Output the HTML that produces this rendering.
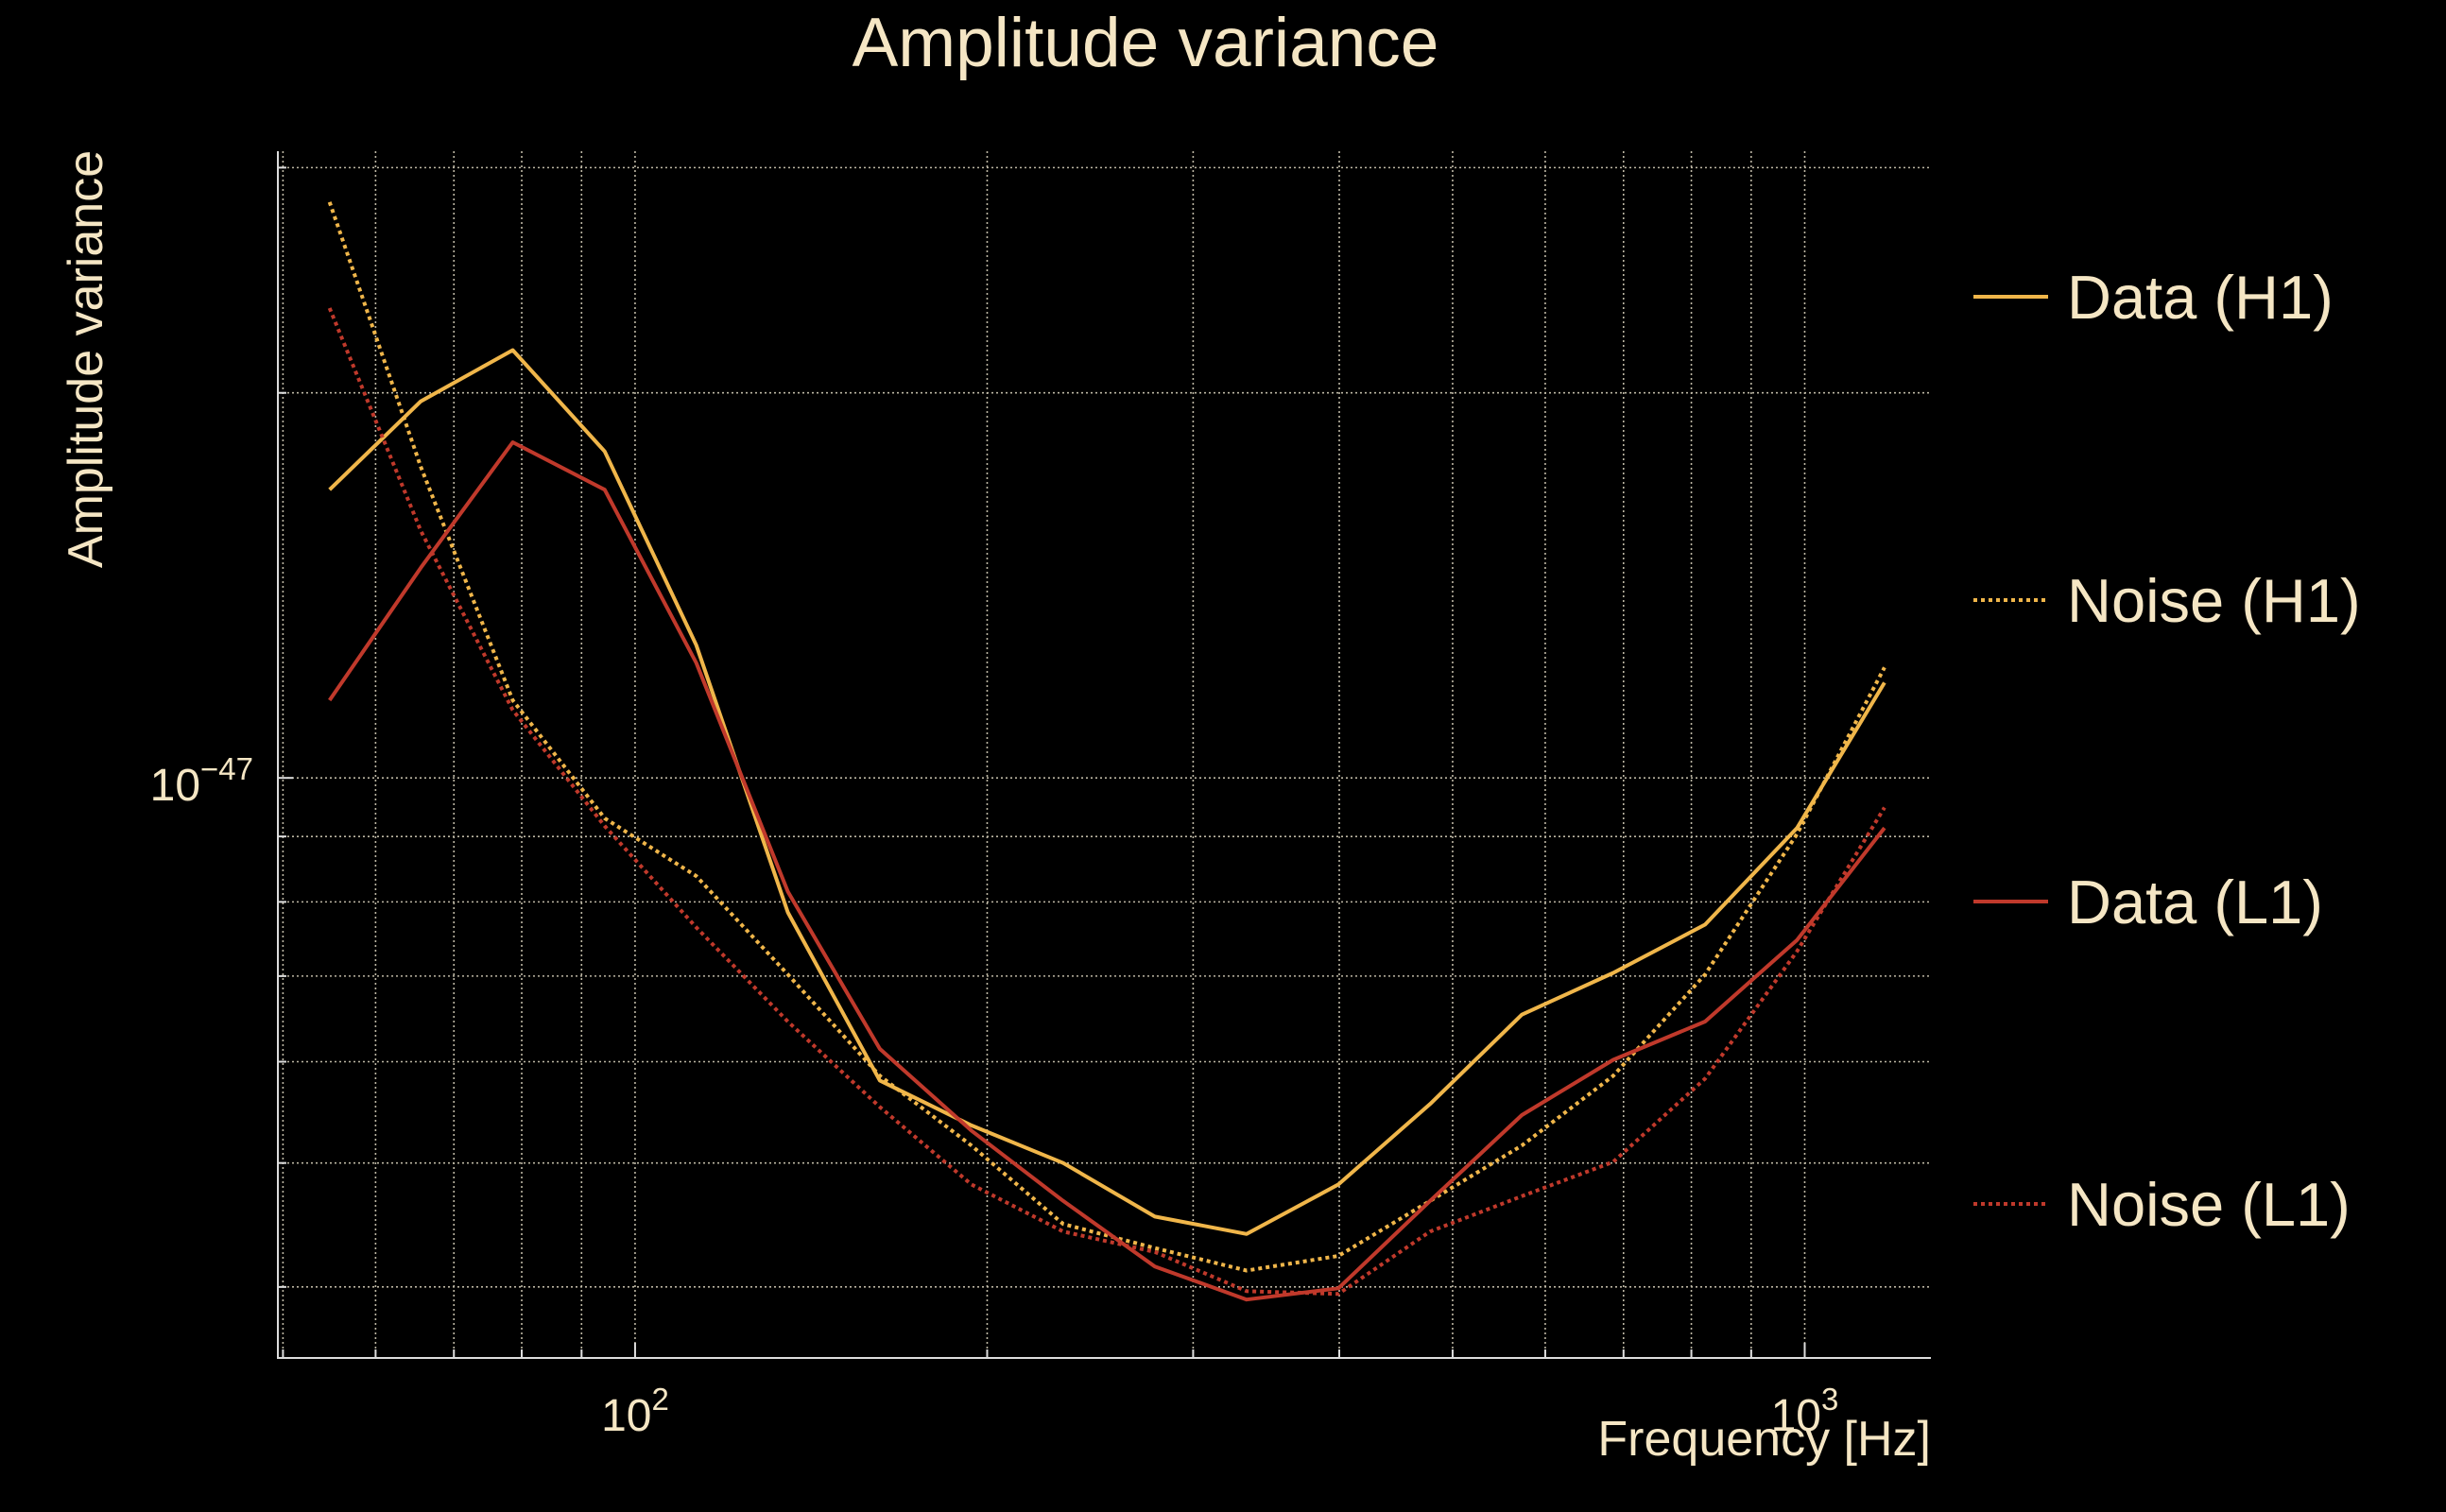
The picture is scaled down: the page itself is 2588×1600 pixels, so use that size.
<!DOCTYPE html>
<html><head><meta charset="utf-8"><style>
html,body{margin:0;padding:0;background:#000;}
svg{display:block;font-family:"Liberation Sans",sans-serif;}
</style></head><body>
<svg id="chart" width="2588" height="1600" viewBox="0 0 2588 1600">
<rect width="2588" height="1600" fill="#000"/>
<text x="1212" y="70" text-anchor="middle" font-size="73" fill="#f5e6c4">Amplitude variance</text>
<g id="grid"></g>
<g id="axes"></g>
<g id="series"></g>
<text x="0" y="0" transform="translate(108,380) rotate(-90)" text-anchor="middle" font-size="52" fill="#f5e6c4">Amplitude variance</text>
<text x="2043" y="1540" text-anchor="end" font-size="52" fill="#f5e6c4">Frequency [Hz]</text>
<g id="legend"></g>
</svg>
<script>
const freqs=[54.8,65.6,78.6,94.2,112.8,135.1,161.9,193.9,232.3,278.2,333.3,399.3,478.3,573,686,822,985,1170];
// values in units of 1e-48
const dataH1=[16.8,19.7,21.6,18.0,12.7,7.85,5.80,5.35,5.00,4.54,4.40,4.81,5.56,6.53,7.04,7.68,9.14,11.87];
const noiseH1=[28.2,17.5,11.5,9.30,8.38,7.02,5.85,5.16,4.48,4.29,4.12,4.23,4.67,5.16,5.85,7.02,9.04,12.2];
const dataL1=[11.5,14.6,18.3,16.8,12.3,8.15,6.14,5.30,4.67,4.15,3.91,3.99,4.67,5.45,6.02,6.45,7.47,9.14];
const noiseL1=[23.3,15.6,11.3,9.17,7.64,6.45,5.53,4.81,4.42,4.26,3.97,3.95,4.42,4.71,5.01,5.82,7.32,9.48];
const xMinorTicks=[50,60,70,80,90,200,300,400,500,600,700,800,900];
const xMajorTicks=[100,1000];
const xMajorLabels=["2","3"];
const yMinorTicks=[4,5,6,7,8,9,20,30];
const yMajorTicks=[10];
const yMajorLabels=["\u221247"];

const NS="http://www.w3.org/2000/svg";
const L=294,R=2043,T=160,B=1437;
const xMin=Math.log10(49.5),xMax=Math.log10(1282);
const yMin=Math.log10(3.52),yMax=Math.log10(30.9);
const xs=v=>L+(Math.log10(v)-xMin)/(xMax-xMin)*(R-L);
const ys=v=>B-(Math.log10(v)-yMin)/(yMax-yMin)*(B-T);
function mk(tag,attrs,parent){const e=document.createElementNS(NS,tag);for(const k in attrs)e.setAttribute(k,attrs[k]);parent.appendChild(e);return e;}
const grid=document.getElementById('grid'),axes=document.getElementById('axes'),ser=document.getElementById('series'),leg=document.getElementById('legend');
const gs={stroke:"#bdb7a4","stroke-width":1.6,"stroke-dasharray":"2,3",fill:"none"};
xMinorTicks.concat(xMajorTicks).forEach(v=>{
 const l=mk('line',Object.assign({x1:xs(v),x2:xs(v),y1:T,y2:B},gs),grid);
 
 
 const t=mk('line',{x1:xs(v),x2:xs(v),y1:B,y2:B-(xMajorTicks.includes(v)?16:9),stroke:"#ddd","stroke-width":2},axes);
 
 
});
yMinorTicks.concat(yMajorTicks).forEach(v=>{
 const l=mk('line',Object.assign({x1:L,x2:R,y1:ys(v),y2:ys(v)},gs),grid);
 
 
 const t=mk('line',{x1:L,x2:L+(yMajorTicks.includes(v)?16:9),y1:ys(v),y2:ys(v),stroke:"#ddd","stroke-width":2},axes);
 
 
});
const ax=mk('path',{d:`M${L},${T} L${L},${B} L${R},${B}`,stroke:"#ddd","stroke-width":2,fill:"none"},axes);


xMajorTicks.forEach((v,i)=>{
 const t=mk('text',{x:xs(v),y:1514,"text-anchor":"middle","font-size":48,fill:"#f5e6c4"},axes);
 
 
 t.textContent="10";
 const s=mk('tspan',{dy:-22,"font-size":33},t);s.textContent=xMajorLabels[i];
});
yMajorTicks.forEach((v,i)=>{
 const t=mk('text',{x:268,y:ys(v)+24,"text-anchor":"end","font-size":48,fill:"#f5e6c4"},axes);
 
 
 t.textContent="10";
 const s=mk('tspan',{dy:-22,"font-size":33},t);s.textContent=yMajorLabels[i];
});
const seriesDef=[
 {vals:dataH1,color:"#f0b64a",dash:null,label:"Data (H1)",ly:314,name:"data-h1"},
 {vals:noiseH1,color:"#f0b64a",dash:"4,4",label:"Noise (H1)",ly:635,name:"noise-h1"},
 {vals:dataL1,color:"#c0392b",dash:null,label:"Data (L1)",ly:954,name:"data-l1"},
 {vals:noiseL1,color:"#c0392b",dash:"4,4",label:"Noise (L1)",ly:1274,name:"noise-l1"}];
seriesDef.forEach(s=>{
 const d=s.vals.map((v,i)=>(i?'L':'M')+xs(freqs[i]).toFixed(1)+','+ys(v).toFixed(1)).join(' ');
 const a={d:d,stroke:s.color,"stroke-width":s.dash?4:4,fill:"none","stroke-linejoin":"round"};
 if(s.dash)a["stroke-dasharray"]=s.dash;
 const p=mk('path',a,ser);
 
 
 const la={x1:2088,x2:2167,y1:s.ly,y2:s.ly,stroke:s.color,"stroke-width":4};
 if(s.dash)la["stroke-dasharray"]=s.dash;
 const ll=mk('line',la,leg);
 
 
 const lt=mk('text',{x:2187,y:s.ly+23,"font-size":65,fill:"#f5e6c4"},leg);
 
 
 lt.textContent=s.label;
});
</script>
</body></html>
